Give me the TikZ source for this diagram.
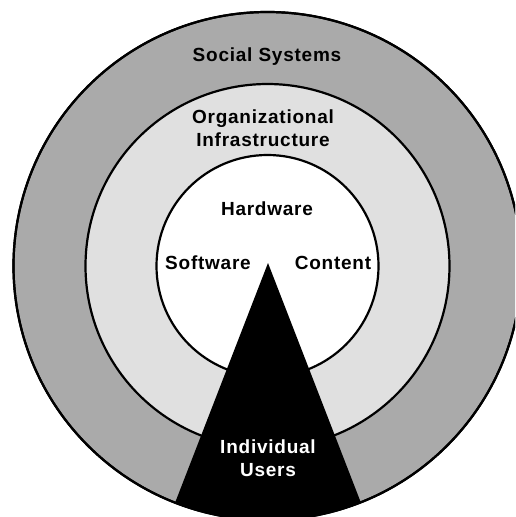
\documentclass[tikz,border=0pt]{standalone}
\usepackage{fontspec}
\setmainfont{Liberation Sans}[LetterSpace=4]
\usepackage{tikz}
\definecolor{social}{HTML}{AAAAAA}
\definecolor{infra}{HTML}{E0E0E0}
\tikzset{
  ring/.style={draw=black, line width=2.2pt},
  lab/.style={font=\fontsize{19}{23}\selectfont\bfseries, text=black, align=center, inner sep=0pt},
  labw/.style={lab, text=white},
}
\begin{document}
\begin{tikzpicture}[x=1pt,y=-1pt]
  \clip (0,0) rectangle (515,517);
  \coordinate (O) at (267.5,266);
  \coordinate (apex) at (268,263);
  % rings from outside in
  \draw[ring, fill=social] (O) circle[radius=254pt];
  \draw[ring, fill=infra] (O) circle[radius=182pt];
  \draw[ring, fill=white] (O) circle[radius=111pt];
  % users wedge
  \begin{scope}
    \clip (O) circle[radius=254pt];
    \fill[black] (apex) -- (164.5,530) -- (371.5,530) -- cycle;
  \end{scope}
  \draw[ring] (O) circle[radius=254pt];
  % labels
  \node[lab] (social) at (267,57) {Social Systems};
  \node[lab] (org) at (263,128) {Organizational\\Infrastructure};
  \node[lab] (hw) at (267,209) {Hardware};
  \node[lab] (sw) at (208,263) {Software};
  \node[lab] (ct) at (333,263) {Content};
  \node[labw] (users) at (268,458) {Individual\\Users};
\end{tikzpicture}
\end{document}
